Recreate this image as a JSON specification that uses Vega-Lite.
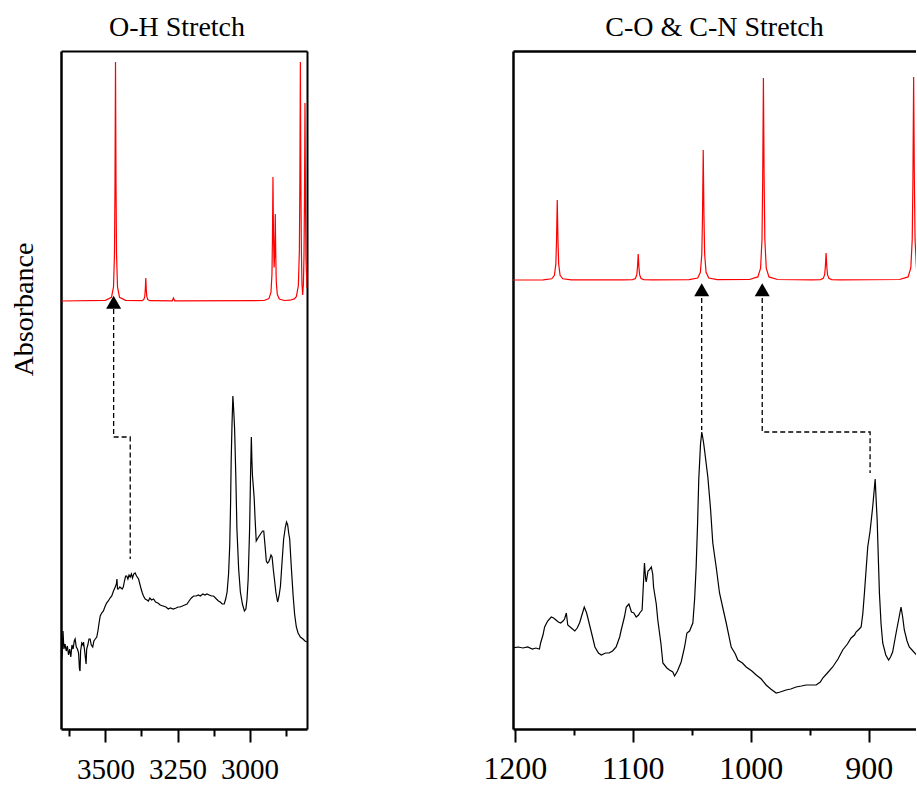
{
  "$schema": "https://vega.github.io/schema/vega-lite/v6.json",
  "background": "white",
  "padding": {"left": 10, "top": 14, "right": 0, "bottom": 0},
  "bounds": "flush",
  "spacing": 206,
  "config": {
    "view": {"stroke": null},
    "axis": {"domainColor": "black", "tickColor": "black", "labelColor": "black", "titleColor": "black", "grid": false},
    "title": {"font": "Liberation Serif", "fontSize": 28, "fontWeight": "normal", "color": "black", "frame": "group", "offset": 9, "anchor": "middle"}
  },
  "datasets": {
    "oh_calc": [
      {"wavenumber": 3652, "absorbance": 428}, {"wavenumber": 3500, "absorbance": 428.7},
      {"wavenumber": 3478.9, "absorbance": 431.6}, {"wavenumber": 3471.9, "absorbance": 442.1},
      {"wavenumber": 3468.5, "absorbance": 475.8}, {"wavenumber": 3466.7, "absorbance": 547.5},
      {"wavenumber": 3465, "absorbance": 667}, {"wavenumber": 3463.3, "absorbance": 547.5},
      {"wavenumber": 3461.5, "absorbance": 475.8}, {"wavenumber": 3458.1, "absorbance": 442.1},
      {"wavenumber": 3451.1, "absorbance": 431.6}, {"wavenumber": 3430, "absorbance": 428.7},
      {"wavenumber": 3373.9, "absorbance": 428.3}, {"wavenumber": 3366.9, "absorbance": 429.4},
      {"wavenumber": 3363.5, "absorbance": 432.6}, {"wavenumber": 3361.7, "absorbance": 439.5},
      {"wavenumber": 3360, "absorbance": 451}, {"wavenumber": 3358.3, "absorbance": 439.5},
      {"wavenumber": 3356.5, "absorbance": 432.6}, {"wavenumber": 3353.1, "absorbance": 429.4},
      {"wavenumber": 3346.1, "absorbance": 428.3}, {"wavenumber": 3268, "absorbance": 428.2},
      {"wavenumber": 3264, "absorbance": 431}, {"wavenumber": 3260, "absorbance": 428.2},
      {"wavenumber": 2950, "absorbance": 428.5}, {"wavenumber": 2933, "absorbance": 430.4},
      {"wavenumber": 2926, "absorbance": 436.5}, {"wavenumber": 2922.5, "absorbance": 454.7},
      {"wavenumber": 2920.7, "absorbance": 492.7}, {"wavenumber": 2919, "absorbance": 552},
      {"wavenumber": 2917.3, "absorbance": 496}, {"wavenumber": 2915, "absorbance": 461.6},
      {"wavenumber": 2912.7, "absorbance": 478}, {"wavenumber": 2911, "absorbance": 515},
      {"wavenumber": 2909.3, "absorbance": 473}, {"wavenumber": 2907.5, "absorbance": 447},
      {"wavenumber": 2904, "absorbance": 434.7}, {"wavenumber": 2897, "absorbance": 430},
      {"wavenumber": 2880, "absorbance": 428.5}, {"wavenumber": 2860, "absorbance": 428.8},
      {"wavenumber": 2845, "absorbance": 430.1}, {"wavenumber": 2838, "absorbance": 432.3},
      {"wavenumber": 2831, "absorbance": 443.2}, {"wavenumber": 2827.5, "absorbance": 477.4},
      {"wavenumber": 2825.7, "absorbance": 549.4}, {"wavenumber": 2824, "absorbance": 667},
      {"wavenumber": 2822.3, "absorbance": 550.4}, {"wavenumber": 2820.5, "absorbance": 479.6},
      {"wavenumber": 2818.5, "absorbance": 445}, {"wavenumber": 2816, "absorbance": 434},
      {"wavenumber": 2813.5, "absorbance": 445}, {"wavenumber": 2811.5, "absorbance": 472.1},
      {"wavenumber": 2809.7, "absorbance": 530.5}, {"wavenumber": 2808, "absorbance": 626},
      {"wavenumber": 2806.3, "absorbance": 529.3}, {"wavenumber": 2804.5, "absorbance": 469.5},
      {"wavenumber": 2801, "absorbance": 441.1}
    ],
    "oh_exp": [
      {"wavenumber": 3652, "absorbance": 70}, {"wavenumber": 3650, "absorbance": 75}, {"wavenumber": 3647, "absorbance": 98},
      {"wavenumber": 3644, "absorbance": 80}, {"wavenumber": 3640, "absorbance": 85}, {"wavenumber": 3636, "absorbance": 78},
      {"wavenumber": 3632, "absorbance": 83}, {"wavenumber": 3628, "absorbance": 74}, {"wavenumber": 3624, "absorbance": 80},
      {"wavenumber": 3620, "absorbance": 72}, {"wavenumber": 3616, "absorbance": 84}, {"wavenumber": 3612, "absorbance": 80},
      {"wavenumber": 3608, "absorbance": 88}, {"wavenumber": 3605, "absorbance": 90}, {"wavenumber": 3601, "absorbance": 82},
      {"wavenumber": 3597, "absorbance": 80}, {"wavenumber": 3593, "absorbance": 76}, {"wavenumber": 3590, "absorbance": 60},
      {"wavenumber": 3588, "absorbance": 58}, {"wavenumber": 3586, "absorbance": 78}, {"wavenumber": 3582, "absorbance": 86},
      {"wavenumber": 3578, "absorbance": 84}, {"wavenumber": 3576, "absorbance": 87}, {"wavenumber": 3572, "absorbance": 78},
      {"wavenumber": 3569, "absorbance": 70}, {"wavenumber": 3567, "absorbance": 65}, {"wavenumber": 3565, "absorbance": 80},
      {"wavenumber": 3561, "absorbance": 84}, {"wavenumber": 3557, "absorbance": 90}, {"wavenumber": 3553, "absorbance": 90},
      {"wavenumber": 3549, "absorbance": 84}, {"wavenumber": 3544, "absorbance": 82}, {"wavenumber": 3540, "absorbance": 88},
      {"wavenumber": 3535, "absorbance": 90}, {"wavenumber": 3530, "absorbance": 92}, {"wavenumber": 3526, "absorbance": 98},
      {"wavenumber": 3522, "absorbance": 106}, {"wavenumber": 3518, "absorbance": 113}, {"wavenumber": 3513, "absorbance": 116},
      {"wavenumber": 3507, "absorbance": 118}, {"wavenumber": 3502, "absorbance": 122}, {"wavenumber": 3496, "absorbance": 126},
      {"wavenumber": 3490, "absorbance": 128}, {"wavenumber": 3484, "absorbance": 131}, {"wavenumber": 3478, "absorbance": 133},
      {"wavenumber": 3472, "absorbance": 138}, {"wavenumber": 3466, "absorbance": 142}, {"wavenumber": 3462, "absorbance": 145},
      {"wavenumber": 3460, "absorbance": 150}, {"wavenumber": 3458, "absorbance": 140}, {"wavenumber": 3455, "absorbance": 140},
      {"wavenumber": 3450, "absorbance": 142}, {"wavenumber": 3446, "absorbance": 141}, {"wavenumber": 3442, "absorbance": 140},
      {"wavenumber": 3438, "absorbance": 142}, {"wavenumber": 3434, "absorbance": 148}, {"wavenumber": 3430, "absorbance": 153},
      {"wavenumber": 3426, "absorbance": 153}, {"wavenumber": 3422, "absorbance": 150}, {"wavenumber": 3418, "absorbance": 154},
      {"wavenumber": 3414, "absorbance": 152}, {"wavenumber": 3410, "absorbance": 155}, {"wavenumber": 3406, "absorbance": 151},
      {"wavenumber": 3402, "absorbance": 155}, {"wavenumber": 3397, "absorbance": 156}, {"wavenumber": 3392, "absorbance": 153},
      {"wavenumber": 3385, "absorbance": 150}, {"wavenumber": 3378, "absorbance": 142}, {"wavenumber": 3372, "absorbance": 136},
      {"wavenumber": 3368, "absorbance": 133}, {"wavenumber": 3362, "absorbance": 130}, {"wavenumber": 3356, "absorbance": 129},
      {"wavenumber": 3351, "absorbance": 128}, {"wavenumber": 3346, "absorbance": 131}, {"wavenumber": 3340, "absorbance": 129},
      {"wavenumber": 3333, "absorbance": 130}, {"wavenumber": 3326, "absorbance": 127}, {"wavenumber": 3318, "absorbance": 126},
      {"wavenumber": 3310, "absorbance": 124}, {"wavenumber": 3300, "absorbance": 123}, {"wavenumber": 3290, "absorbance": 122},
      {"wavenumber": 3282, "absorbance": 120}, {"wavenumber": 3275, "absorbance": 121}, {"wavenumber": 3265, "absorbance": 120},
      {"wavenumber": 3255, "absorbance": 121}, {"wavenumber": 3248, "absorbance": 122}, {"wavenumber": 3241, "absorbance": 122},
      {"wavenumber": 3233, "absorbance": 123}, {"wavenumber": 3225, "absorbance": 124}, {"wavenumber": 3217, "absorbance": 125},
      {"wavenumber": 3210, "absorbance": 128}, {"wavenumber": 3202, "absorbance": 131}, {"wavenumber": 3194, "absorbance": 133},
      {"wavenumber": 3185, "absorbance": 133}, {"wavenumber": 3178, "absorbance": 134}, {"wavenumber": 3171, "absorbance": 133},
      {"wavenumber": 3162, "absorbance": 135}, {"wavenumber": 3155, "absorbance": 134}, {"wavenumber": 3148, "absorbance": 135},
      {"wavenumber": 3140, "absorbance": 134}, {"wavenumber": 3132, "absorbance": 133}, {"wavenumber": 3125, "absorbance": 133},
      {"wavenumber": 3115, "absorbance": 130}, {"wavenumber": 3108, "absorbance": 128}, {"wavenumber": 3102, "absorbance": 127},
      {"wavenumber": 3095, "absorbance": 125}, {"wavenumber": 3088, "absorbance": 125}, {"wavenumber": 3083, "absorbance": 130},
      {"wavenumber": 3078, "absorbance": 137}, {"wavenumber": 3073, "absorbance": 155}, {"wavenumber": 3069, "absorbance": 183},
      {"wavenumber": 3066, "absorbance": 225}, {"wavenumber": 3064, "absorbance": 267}, {"wavenumber": 3061, "absorbance": 305},
      {"wavenumber": 3058, "absorbance": 333}, {"wavenumber": 3055, "absorbance": 318}, {"wavenumber": 3052, "absorbance": 300},
      {"wavenumber": 3048, "absorbance": 255}, {"wavenumber": 3044, "absorbance": 200}, {"wavenumber": 3038, "absorbance": 160},
      {"wavenumber": 3032, "absorbance": 137}, {"wavenumber": 3025, "absorbance": 125}, {"wavenumber": 3018, "absorbance": 118},
      {"wavenumber": 3013, "absorbance": 120}, {"wavenumber": 3009, "absorbance": 130}, {"wavenumber": 3005, "absorbance": 150},
      {"wavenumber": 3002, "absorbance": 180}, {"wavenumber": 3000, "absorbance": 200}, {"wavenumber": 2997, "absorbance": 250},
      {"wavenumber": 2994, "absorbance": 292}, {"wavenumber": 2992, "absorbance": 268}, {"wavenumber": 2990, "absorbance": 253},
      {"wavenumber": 2987, "absorbance": 242}, {"wavenumber": 2984, "absorbance": 230}, {"wavenumber": 2981, "absorbance": 210},
      {"wavenumber": 2977, "absorbance": 188}, {"wavenumber": 2973, "absorbance": 190}, {"wavenumber": 2969, "absorbance": 192},
      {"wavenumber": 2960, "absorbance": 196}, {"wavenumber": 2955, "absorbance": 198}, {"wavenumber": 2951, "absorbance": 198},
      {"wavenumber": 2947, "absorbance": 185}, {"wavenumber": 2942, "absorbance": 168}, {"wavenumber": 2938, "absorbance": 166},
      {"wavenumber": 2934, "absorbance": 167}, {"wavenumber": 2930, "absorbance": 170}, {"wavenumber": 2926, "absorbance": 174},
      {"wavenumber": 2922, "absorbance": 172}, {"wavenumber": 2918, "absorbance": 160}, {"wavenumber": 2914, "absorbance": 150},
      {"wavenumber": 2909, "absorbance": 137}, {"wavenumber": 2903, "absorbance": 127}, {"wavenumber": 2898, "absorbance": 133},
      {"wavenumber": 2893, "absorbance": 143}, {"wavenumber": 2888, "absorbance": 165}, {"wavenumber": 2882, "absorbance": 190},
      {"wavenumber": 2876, "absorbance": 202}, {"wavenumber": 2872, "absorbance": 207}, {"wavenumber": 2868, "absorbance": 204},
      {"wavenumber": 2864, "absorbance": 195}, {"wavenumber": 2861, "absorbance": 190}, {"wavenumber": 2855, "absorbance": 160},
      {"wavenumber": 2849, "absorbance": 133}, {"wavenumber": 2844, "absorbance": 115}, {"wavenumber": 2838, "absorbance": 102},
      {"wavenumber": 2832, "absorbance": 96}, {"wavenumber": 2824, "absorbance": 92}, {"wavenumber": 2815, "absorbance": 90},
      {"wavenumber": 2808, "absorbance": 88}, {"wavenumber": 2802, "absorbance": 87}
    ],
    "oh_arrow": [{"wavenumber": 3471.5, "absorbance": 424.6}],
    "oh_dash": [
      {"seg": "a", "i": 0, "wavenumber": 3471.5, "absorbance": 420},
      {"seg": "a", "i": 1, "wavenumber": 3471.5, "absorbance": 292},
      {"seg": "a", "i": 2, "wavenumber": 3414, "absorbance": 292},
      {"seg": "a", "i": 3, "wavenumber": 3414, "absorbance": 170}
    ],
    "co_calc": [
      {"wavenumber": 1201.5, "absorbance": 449}, {"wavenumber": 1175.8, "absorbance": 449.2},
      {"wavenumber": 1168.6, "absorbance": 450.2}, {"wavenumber": 1166.3, "absorbance": 453.7},
      {"wavenumber": 1165.1, "absorbance": 465}, {"wavenumber": 1164.5, "absorbance": 489},
      {"wavenumber": 1163.9, "absorbance": 529}, {"wavenumber": 1163.3, "absorbance": 489},
      {"wavenumber": 1162.7, "absorbance": 465}, {"wavenumber": 1161.5, "absorbance": 453.7},
      {"wavenumber": 1159.2, "absorbance": 450.2}, {"wavenumber": 1152, "absorbance": 449.2},
      {"wavenumber": 1107.2, "absorbance": 449.1}, {"wavenumber": 1100, "absorbance": 449.4},
      {"wavenumber": 1097.7, "absorbance": 450.5}, {"wavenumber": 1096.5, "absorbance": 454.2},
      {"wavenumber": 1095.9, "absorbance": 462}, {"wavenumber": 1095.3, "absorbance": 475},
      {"wavenumber": 1094.7, "absorbance": 462}, {"wavenumber": 1094.1, "absorbance": 454.2},
      {"wavenumber": 1092.9, "absorbance": 450.5}, {"wavenumber": 1090.6, "absorbance": 449.4},
      {"wavenumber": 1083.4, "absorbance": 449.1}, {"wavenumber": 1052.1, "absorbance": 449.3},
      {"wavenumber": 1044.9, "absorbance": 451}, {"wavenumber": 1042.6, "absorbance": 456.7},
      {"wavenumber": 1041.4, "absorbance": 475}, {"wavenumber": 1040.8, "absorbance": 514},
      {"wavenumber": 1040.2, "absorbance": 579}, {"wavenumber": 1039.6, "absorbance": 514},
      {"wavenumber": 1039, "absorbance": 475}, {"wavenumber": 1037.8, "absorbance": 456.7},
      {"wavenumber": 1035.5, "absorbance": 451}, {"wavenumber": 1028.3, "absorbance": 449.3},
      {"wavenumber": 1001.1, "absorbance": 449.5}, {"wavenumber": 993.9, "absorbance": 452.1},
      {"wavenumber": 991.6, "absorbance": 460.9}, {"wavenumber": 990.4, "absorbance": 489.4},
      {"wavenumber": 989.8, "absorbance": 550}, {"wavenumber": 989.2, "absorbance": 651},
      {"wavenumber": 988.6, "absorbance": 550}, {"wavenumber": 988, "absorbance": 489.4},
      {"wavenumber": 986.8, "absorbance": 460.9}, {"wavenumber": 984.5, "absorbance": 452.1},
      {"wavenumber": 977.3, "absorbance": 449.5}, {"wavenumber": 948, "absorbance": 449.1},
      {"wavenumber": 940.8, "absorbance": 449.4}, {"wavenumber": 938.5, "absorbance": 450.6},
      {"wavenumber": 937.3, "absorbance": 454.4}, {"wavenumber": 936.7, "absorbance": 462.5},
      {"wavenumber": 936.1, "absorbance": 476}, {"wavenumber": 935.5, "absorbance": 462.5},
      {"wavenumber": 934.9, "absorbance": 454.4}, {"wavenumber": 933.7, "absorbance": 450.6},
      {"wavenumber": 931.4, "absorbance": 449.4}, {"wavenumber": 924.2, "absorbance": 449.1},
      {"wavenumber": 873.8, "absorbance": 449.5}, {"wavenumber": 866.6, "absorbance": 452.1},
      {"wavenumber": 864.3, "absorbance": 461}, {"wavenumber": 863.1, "absorbance": 489.6},
      {"wavenumber": 862.5, "absorbance": 550.5}, {"wavenumber": 861.9, "absorbance": 652},
      {"wavenumber": 861.3, "absorbance": 550.5}, {"wavenumber": 860.7, "absorbance": 489.6},
      {"wavenumber": 859.5, "absorbance": 461}
    ],
    "co_exp": [
      {"wavenumber": 1201.5, "absorbance": 81}, {"wavenumber": 1197, "absorbance": 82}, {"wavenumber": 1193, "absorbance": 81},
      {"wavenumber": 1189, "absorbance": 82}, {"wavenumber": 1185, "absorbance": 80}, {"wavenumber": 1182, "absorbance": 81},
      {"wavenumber": 1179, "absorbance": 80}, {"wavenumber": 1178, "absorbance": 86}, {"wavenumber": 1176, "absorbance": 94},
      {"wavenumber": 1174.6, "absorbance": 102}, {"wavenumber": 1172, "absorbance": 108}, {"wavenumber": 1169, "absorbance": 112},
      {"wavenumber": 1167, "absorbance": 111}, {"wavenumber": 1165, "absorbance": 109}, {"wavenumber": 1163, "absorbance": 107},
      {"wavenumber": 1161, "absorbance": 106}, {"wavenumber": 1159, "absorbance": 108}, {"wavenumber": 1157.7, "absorbance": 110},
      {"wavenumber": 1156.2, "absorbance": 116}, {"wavenumber": 1155, "absorbance": 104}, {"wavenumber": 1152, "absorbance": 101},
      {"wavenumber": 1149, "absorbance": 98}, {"wavenumber": 1147, "absorbance": 101}, {"wavenumber": 1145, "absorbance": 106},
      {"wavenumber": 1143, "absorbance": 114}, {"wavenumber": 1141, "absorbance": 122}, {"wavenumber": 1139, "absorbance": 116},
      {"wavenumber": 1136.5, "absorbance": 104}, {"wavenumber": 1134, "absorbance": 92}, {"wavenumber": 1132, "absorbance": 82},
      {"wavenumber": 1129, "absorbance": 76}, {"wavenumber": 1126.6, "absorbance": 74}, {"wavenumber": 1123, "absorbance": 76},
      {"wavenumber": 1120, "absorbance": 76}, {"wavenumber": 1117, "absorbance": 78}, {"wavenumber": 1114, "absorbance": 82},
      {"wavenumber": 1111, "absorbance": 92}, {"wavenumber": 1109.7, "absorbance": 99}, {"wavenumber": 1107, "absorbance": 112},
      {"wavenumber": 1105.4, "absorbance": 122}, {"wavenumber": 1103.2, "absorbance": 125}, {"wavenumber": 1101, "absorbance": 117},
      {"wavenumber": 1099, "absorbance": 116}, {"wavenumber": 1097, "absorbance": 112}, {"wavenumber": 1095, "absorbance": 114},
      {"wavenumber": 1094, "absorbance": 116}, {"wavenumber": 1092, "absorbance": 119}, {"wavenumber": 1090, "absorbance": 166},
      {"wavenumber": 1089, "absorbance": 150}, {"wavenumber": 1088.5, "absorbance": 147}, {"wavenumber": 1087, "absorbance": 158},
      {"wavenumber": 1086, "absorbance": 159}, {"wavenumber": 1084.2, "absorbance": 162}, {"wavenumber": 1083, "absorbance": 155},
      {"wavenumber": 1082.3, "absorbance": 142}, {"wavenumber": 1080, "absorbance": 125}, {"wavenumber": 1078.7, "absorbance": 109},
      {"wavenumber": 1076, "absorbance": 85}, {"wavenumber": 1074.4, "absorbance": 66}, {"wavenumber": 1071, "absorbance": 61},
      {"wavenumber": 1068.8, "absorbance": 59}, {"wavenumber": 1066, "absorbance": 57}, {"wavenumber": 1064.5, "absorbance": 53},
      {"wavenumber": 1062, "absorbance": 58}, {"wavenumber": 1058.9, "absorbance": 67}, {"wavenumber": 1056, "absorbance": 82},
      {"wavenumber": 1054, "absorbance": 96}, {"wavenumber": 1051.8, "absorbance": 98}, {"wavenumber": 1049, "absorbance": 106},
      {"wavenumber": 1047.5, "absorbance": 130}, {"wavenumber": 1046.2, "absorbance": 162}, {"wavenumber": 1045, "absorbance": 205},
      {"wavenumber": 1044, "absorbance": 249}, {"wavenumber": 1042.5, "absorbance": 285}, {"wavenumber": 1041.4, "absorbance": 297},
      {"wavenumber": 1040, "absorbance": 287}, {"wavenumber": 1039.1, "absorbance": 279}, {"wavenumber": 1036.3, "absorbance": 252},
      {"wavenumber": 1034, "absorbance": 220}, {"wavenumber": 1032.1, "absorbance": 186}, {"wavenumber": 1029, "absorbance": 160},
      {"wavenumber": 1026.4, "absorbance": 136}, {"wavenumber": 1023, "absorbance": 118}, {"wavenumber": 1020.7, "absorbance": 106},
      {"wavenumber": 1016.5, "absorbance": 82}, {"wavenumber": 1013, "absorbance": 75}, {"wavenumber": 1010.9, "absorbance": 69},
      {"wavenumber": 1007, "absorbance": 66}, {"wavenumber": 1003.8, "absorbance": 62}, {"wavenumber": 999, "absorbance": 58},
      {"wavenumber": 995.3, "absorbance": 54}, {"wavenumber": 991, "absorbance": 50}, {"wavenumber": 986.9, "absorbance": 44},
      {"wavenumber": 983, "absorbance": 40}, {"wavenumber": 978.4, "absorbance": 36}, {"wavenumber": 975, "absorbance": 37},
      {"wavenumber": 970, "absorbance": 39}, {"wavenumber": 966, "absorbance": 40}, {"wavenumber": 961.5, "absorbance": 42},
      {"wavenumber": 957, "absorbance": 43}, {"wavenumber": 953, "absorbance": 44}, {"wavenumber": 948, "absorbance": 44},
      {"wavenumber": 944.5, "absorbance": 44}, {"wavenumber": 941, "absorbance": 47}, {"wavenumber": 938.9, "absorbance": 51},
      {"wavenumber": 935, "absorbance": 56}, {"wavenumber": 930.5, "absorbance": 62}, {"wavenumber": 926, "absorbance": 70},
      {"wavenumber": 922, "absorbance": 79}, {"wavenumber": 918, "absorbance": 85}, {"wavenumber": 914.9, "absorbance": 91},
      {"wavenumber": 912, "absorbance": 94}, {"wavenumber": 910.7, "absorbance": 97}, {"wavenumber": 908, "absorbance": 100},
      {"wavenumber": 906.4, "absorbance": 102}, {"wavenumber": 905, "absorbance": 115}, {"wavenumber": 903.6, "absorbance": 136},
      {"wavenumber": 900.8, "absorbance": 182}, {"wavenumber": 898.8, "absorbance": 198}, {"wavenumber": 896.6, "absorbance": 222},
      {"wavenumber": 894.5, "absorbance": 250}, {"wavenumber": 893.5, "absorbance": 225}, {"wavenumber": 892.8, "absorbance": 209},
      {"wavenumber": 891.8, "absorbance": 170}, {"wavenumber": 890.9, "absorbance": 136}, {"wavenumber": 889.5, "absorbance": 105},
      {"wavenumber": 888.1, "absorbance": 86}, {"wavenumber": 885.5, "absorbance": 74}, {"wavenumber": 883.1, "absorbance": 69},
      {"wavenumber": 881.5, "absorbance": 72}, {"wavenumber": 879.7, "absorbance": 77}, {"wavenumber": 878, "absorbance": 88},
      {"wavenumber": 876.3, "absorbance": 99}, {"wavenumber": 874.5, "absorbance": 110}, {"wavenumber": 872.6, "absorbance": 122},
      {"wavenumber": 871.2, "absorbance": 112}, {"wavenumber": 869.8, "absorbance": 99}, {"wavenumber": 867.5, "absorbance": 88},
      {"wavenumber": 865.6, "absorbance": 82}, {"wavenumber": 862.5, "absorbance": 78}, {"wavenumber": 859.5, "absorbance": 74}
    ],
    "co_arrow": [{"wavenumber": 1041.5, "absorbance": 437}, {"wavenumber": 990.2, "absorbance": 437}],
    "co_dash": [
      {"seg": "a", "i": 0, "wavenumber": 1041.5, "absorbance": 431},
      {"seg": "a", "i": 1, "wavenumber": 1041.5, "absorbance": 299},
      {"seg": "b", "i": 0, "wavenumber": 990.2, "absorbance": 431},
      {"seg": "b", "i": 1, "wavenumber": 990.2, "absorbance": 297},
      {"seg": "b", "i": 2, "wavenumber": 898.8, "absorbance": 297},
      {"seg": "b", "i": 3, "wavenumber": 898.8, "absorbance": 256}
    ]
  },
  "hconcat": [
    {
      "width": 246,
      "height": 678,
      "title": {"text": "O-H Stretch", "dx": -7},
      "layer": [
        {
          "data": {"name": "oh_calc"},
          "mark": {"type": "line", "color": "#ff0000", "strokeWidth": 1.2, "clip": true},
          "encoding": {
            "x": {"field": "wavenumber", "type": "quantitative",
              "scale": {"domain": [3654, 2801], "nice": false, "zero": false},
              "axis": {"orient": "bottom", "title": null, "values": [3625, 3500, 3375, 3250, 3125, 3000, 2875], "format": "d",
                "labelExpr": "datum.value % 250 === 0 ? datum.label : ''",
                "tickSize": {"condition": {"test": "datum.value % 250 === 0", "value": 13}, "value": 7},
                "tickWidth": 2, "domainWidth": 2.5, "labelFont": "Liberation Sans Narrow", "labelFontSize": 29,
                "labelPadding": 13, "labelBaseline": "top", "labelFlush": false, "labelOverlap": false}},
            "y": {"field": "absorbance", "type": "quantitative",
              "scale": {"domain": [0, 678], "nice": false, "zero": false},
              "axis": {"orient": "left", "title": "Absorbance", "labels": false, "ticks": false, "domainWidth": 2.5,
                "titleFont": "Liberation Serif", "titleFontSize": 28, "titleFontWeight": "normal", "titleAngle": -90,
                "titleX": -37, "titleY": 258, "titleBaseline": "middle", "titleAlign": "center"}}
          }
        },
        {
          "data": {"name": "oh_exp"},
          "mark": {"type": "line", "color": "black", "strokeWidth": 1.2, "clip": true},
          "encoding": {
            "x": {"field": "wavenumber", "type": "quantitative",
              "scale": {"domain": [3654, 2801], "nice": false, "zero": false},
              "axis": {"orient": "top", "title": null, "labels": false, "ticks": false, "domainWidth": 2}},
            "y": {"field": "absorbance", "type": "quantitative",
              "scale": {"domain": [0, 678], "nice": false, "zero": false},
              "axis": {"orient": "right", "title": null, "labels": false, "ticks": false, "domainWidth": 2}}
          }
        },
        {
          "data": {"name": "oh_dash"},
          "mark": {"type": "line", "color": "black", "strokeWidth": 1.3, "strokeDash": [5, 3]},
          "encoding": {
            "x": {"field": "wavenumber", "type": "quantitative", "scale": {"domain": [3654, 2801], "nice": false, "zero": false}, "axis": null},
            "y": {"field": "absorbance", "type": "quantitative", "scale": {"domain": [0, 678], "nice": false, "zero": false}, "axis": null},
            "detail": {"field": "seg"},
            "order": {"field": "i", "type": "quantitative"}
          }
        },
        {
          "data": {"name": "oh_arrow"},
          "mark": {"type": "point", "shape": "triangle", "filled": true, "color": "black", "opacity": 1, "size": 225, "strokeWidth": 0},
          "encoding": {
            "x": {"field": "wavenumber", "type": "quantitative", "scale": {"domain": [3654, 2801], "nice": false, "zero": false}, "axis": null},
            "y": {"field": "absorbance", "type": "quantitative", "scale": {"domain": [0, 678], "nice": false, "zero": false}, "axis": null}
          }
        }
      ],
      "resolve": {"axis": {"x": "independent", "y": "independent"}}
    },
    {
      "width": 403,
      "height": 678,
      "title": {"text": "C-O & C-N Stretch"},
      "layer": [
        {
          "data": {"name": "co_calc"},
          "mark": {"type": "line", "color": "#ff0000", "strokeWidth": 1.2, "clip": true},
          "encoding": {
            "x": {"field": "wavenumber", "type": "quantitative",
              "scale": {"domain": [1201.4, 859.9], "nice": false, "zero": false},
              "axis": {"orient": "bottom", "title": null, "values": [1200, 1150, 1100, 1050, 1000, 950, 900], "format": "d",
                "labelExpr": "datum.value % 100 === 0 ? datum.label : ''",
                "tickSize": {"condition": {"test": "datum.value % 100 === 0", "value": 13}, "value": 6},
                "tickWidth": 2, "domainWidth": 2.5, "labelFont": "Liberation Sans Narrow", "labelFontSize": 32,
                "labelPadding": 11, "labelBaseline": "top", "labelFlush": false, "labelOverlap": false}},
            "y": {"field": "absorbance", "type": "quantitative",
              "scale": {"domain": [0, 678], "nice": false, "zero": false},
              "axis": {"orient": "left", "title": null, "labels": false, "ticks": false, "domainWidth": 2.5}}
          }
        },
        {
          "data": {"name": "co_exp"},
          "mark": {"type": "line", "color": "black", "strokeWidth": 1.2, "clip": true},
          "encoding": {
            "x": {"field": "wavenumber", "type": "quantitative",
              "scale": {"domain": [1201.4, 859.9], "nice": false, "zero": false},
              "axis": {"orient": "top", "title": null, "labels": false, "ticks": false, "domainWidth": 2.5}},
            "y": {"field": "absorbance", "type": "quantitative",
              "scale": {"domain": [0, 678], "nice": false, "zero": false}, "axis": null}
          }
        },
        {
          "data": {"name": "co_dash"},
          "mark": {"type": "line", "color": "black", "strokeWidth": 1.3, "strokeDash": [5, 3]},
          "encoding": {
            "x": {"field": "wavenumber", "type": "quantitative", "scale": {"domain": [1201.4, 859.9], "nice": false, "zero": false}, "axis": null},
            "y": {"field": "absorbance", "type": "quantitative", "scale": {"domain": [0, 678], "nice": false, "zero": false}, "axis": null},
            "detail": {"field": "seg"},
            "order": {"field": "i", "type": "quantitative"}
          }
        },
        {
          "data": {"name": "co_arrow"},
          "mark": {"type": "point", "shape": "triangle", "filled": true, "color": "black", "opacity": 1, "size": 225, "strokeWidth": 0},
          "encoding": {
            "x": {"field": "wavenumber", "type": "quantitative", "scale": {"domain": [1201.4, 859.9], "nice": false, "zero": false}, "axis": null},
            "y": {"field": "absorbance", "type": "quantitative", "scale": {"domain": [0, 678], "nice": false, "zero": false}, "axis": null}
          }
        }
      ],
      "resolve": {"axis": {"x": "independent", "y": "independent"}}
    }
  ]
}
